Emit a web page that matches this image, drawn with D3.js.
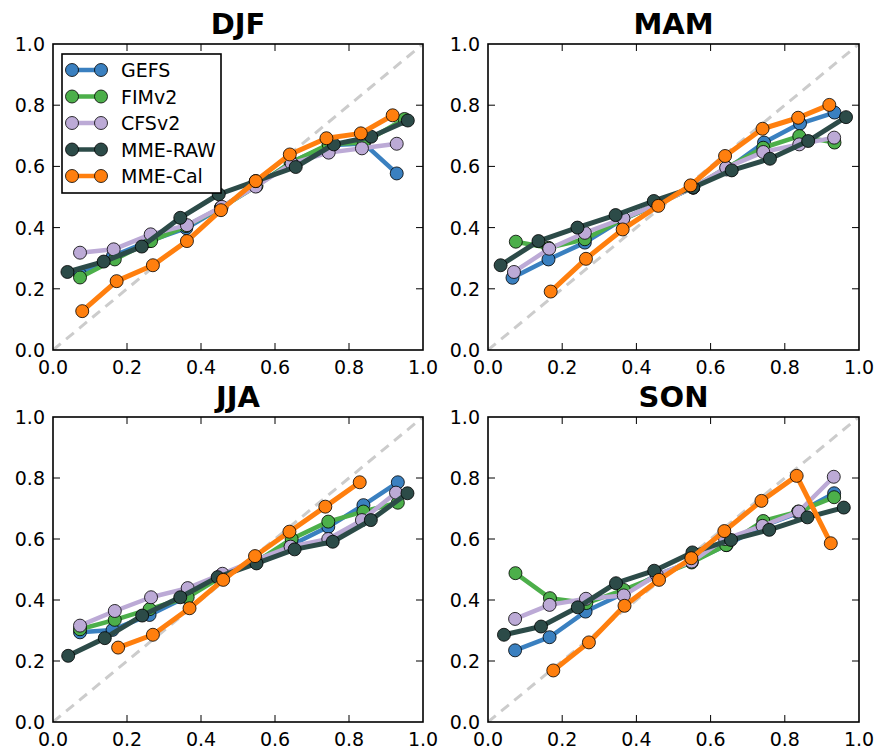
<!DOCTYPE html>
<html>
<head>
<meta charset="utf-8">
<script src="https://cdn.jsdelivr.net/npm/d3@7"></script>
<style>
  body { margin: 0; background: #fff; }
  svg { display: block; font-family: "DejaVu Sans", sans-serif; }
</style>
</head>
<body>
<script>
// reliability diagrams, one per season
const seasons = ["DJF", "MAM", "JJA", "SON"];
const models = ["GEFS", "FIMv2", "CFSv2", "MME-RAW", "MME-Cal"];
const colors = ["#3a80c0", "#4caf4a", "#bcaad6", "#2c4b48", "#ff7f0e"];
const ticks = [0, 0.2, 0.4, 0.6, 0.8, 1.0];

// [forecast probability, observed frequency]
const djfGEFS = [[0.073,0.247],[0.162,0.307],[0.26,0.356],[0.36,0.398],[0.454,0.465],[0.548,0.536],[0.645,0.614],[0.745,0.669],[0.84,0.675],[0.929,0.577]];
const djfFIM  = [[0.073,0.237],[0.167,0.296],[0.265,0.356],[0.36,0.405],[0.454,0.465],[0.55,0.536],[0.642,0.612],[0.745,0.672],[0.84,0.678],[0.95,0.755]];
const djfCFS  = [[0.073,0.318],[0.164,0.329],[0.264,0.378],[0.362,0.408],[0.456,0.468],[0.548,0.534],[0.645,0.61],[0.745,0.645],[0.835,0.659],[0.929,0.674]];
const djfRAW  = [[0.039,0.255],[0.137,0.289],[0.24,0.338],[0.344,0.432],[0.448,0.509],[0.548,0.552],[0.656,0.598],[0.759,0.672],[0.86,0.697],[0.959,0.75]];
const djfCAL  = [[0.079,0.127],[0.172,0.225],[0.27,0.277],[0.362,0.356],[0.454,0.457],[0.548,0.552],[0.64,0.639],[0.739,0.692],[0.832,0.708],[0.918,0.767]];

const mamGEFS = [[0.066,0.236],[0.163,0.296],[0.261,0.351],[0.363,0.427],[0.455,0.476],[0.553,0.531],[0.643,0.59],[0.744,0.678],[0.841,0.74],[0.934,0.776]];
const mamFIM  = [[0.075,0.354],[0.163,0.334],[0.261,0.362],[0.363,0.427],[0.455,0.476],[0.553,0.531],[0.643,0.596],[0.742,0.661],[0.839,0.699],[0.934,0.678]];
const mamCFS  = [[0.07,0.255],[0.165,0.331],[0.261,0.383],[0.365,0.43],[0.455,0.476],[0.553,0.531],[0.642,0.596],[0.742,0.647],[0.839,0.672],[0.933,0.694]];
const mamRAW  = [[0.034,0.277],[0.136,0.356],[0.241,0.4],[0.344,0.441],[0.447,0.487],[0.553,0.531],[0.657,0.587],[0.76,0.625],[0.863,0.683],[0.965,0.761]];
const mamCAL  = [[0.169,0.191],[0.264,0.298],[0.363,0.394],[0.459,0.471],[0.546,0.538],[0.639,0.634],[0.74,0.723],[0.836,0.759],[0.92,0.801]];

const jjaGEFS = [[0.073,0.294],[0.161,0.302],[0.261,0.351],[0.36,0.41],[0.454,0.48],[0.548,0.53],[0.645,0.58],[0.744,0.64],[0.839,0.711],[0.932,0.786]];
const jjaFIM  = [[0.073,0.304],[0.167,0.335],[0.261,0.37],[0.364,0.409],[0.456,0.477],[0.55,0.526],[0.645,0.6],[0.744,0.657],[0.839,0.69],[0.932,0.719]];
const jjaCFS  = [[0.073,0.316],[0.167,0.364],[0.265,0.409],[0.364,0.439],[0.458,0.486],[0.548,0.531],[0.642,0.575],[0.744,0.6],[0.835,0.662],[0.927,0.752]];
const jjaRAW  = [[0.041,0.217],[0.14,0.275],[0.241,0.349],[0.344,0.409],[0.445,0.475],[0.55,0.52],[0.653,0.566],[0.756,0.591],[0.859,0.662],[0.958,0.75]];
const jjaCAL  = [[0.176,0.244],[0.27,0.286],[0.369,0.373],[0.46,0.466],[0.546,0.544],[0.639,0.624],[0.736,0.706],[0.829,0.786]];

const sonGEFS = [[0.073,0.235],[0.166,0.278],[0.263,0.362],[0.366,0.422],[0.455,0.482],[0.549,0.526],[0.643,0.58],[0.742,0.643],[0.836,0.686],[0.933,0.75]];
const sonFIM  = [[0.074,0.488],[0.167,0.406],[0.265,0.39],[0.366,0.433],[0.455,0.477],[0.549,0.523],[0.642,0.58],[0.742,0.659],[0.836,0.69],[0.933,0.737]];
const sonCFS  = [[0.073,0.338],[0.166,0.384],[0.264,0.404],[0.366,0.415],[0.455,0.482],[0.549,0.526],[0.639,0.6],[0.74,0.643],[0.838,0.69],[0.932,0.804]];
const sonRAW  = [[0.043,0.286],[0.143,0.313],[0.242,0.376],[0.345,0.455],[0.448,0.496],[0.551,0.556],[0.655,0.597],[0.758,0.63],[0.861,0.671],[0.959,0.703]];
const sonCAL  = [[0.176,0.169],[0.272,0.261],[0.368,0.381],[0.461,0.466],[0.548,0.537],[0.637,0.626],[0.737,0.725],[0.832,0.807],[0.924,0.586]];

const seasonData = [
  [djfGEFS, djfFIM, djfCFS, djfRAW, djfCAL],
  [mamGEFS, mamFIM, mamCFS, mamRAW, mamCAL],
  [jjaGEFS, jjaFIM, jjaCFS, jjaRAW, jjaCAL],
  [sonGEFS, sonFIM, sonCFS, sonRAW, sonCAL]
];

const W = 877, H = 749;
// panel boxes: left, right, top, bottom
const boxes = [
  [53, 423, 44, 350],
  [488, 859, 44, 350],
  [53, 423, 417, 722],
  [488, 859, 417, 722]
];

const svg = d3.select("body").append("svg").attr("width", W).attr("height", H);

seasons.forEach(function(name, si){
  const b = boxes[si];
  const x = d3.scaleLinear().domain([0, 1]).range([b[0], b[1]]);
  const y = d3.scaleLinear().domain([0, 1]).range([b[3], b[2]]);
  const g = svg.append("g");
  const clipId = "clip" + si;
  g.append("clipPath").attr("id", clipId).append("rect")
    .attr("x", b[0]).attr("y", b[2]).attr("width", b[1]-b[0]).attr("height", b[3]-b[2]);

  // perfect reliability
  g.append("line")
    .attr("clip-path", "url(#" + clipId + ")")
    .attr("x1", x(0)).attr("y1", y(0)).attr("x2", x(1)).attr("y2", y(1))
    .attr("stroke", "#cccccc").attr("stroke-width", 3).attr("stroke-dasharray", "10,7");

  const line = d3.line().x(d => x(d[0])).y(d => y(d[1]));
  seasonData[si].forEach(function(pts, mi){
    g.append("path").datum(pts)
      .attr("d", line).attr("fill", "none")
      .attr("stroke", colors[mi]).attr("stroke-width", mi >= 3 ? 5 : 4.5)
      .attr("stroke-linejoin", "round");
    g.selectAll(null).data(pts).enter().append("circle")
      .attr("cx", d => x(d[0])).attr("cy", d => y(d[1])).attr("r", 6.5)
      .attr("fill", colors[mi]).attr("stroke", "#000").attr("stroke-width", 0.8);
  });

  // frame and inward ticks
  g.append("rect").attr("x", b[0]).attr("y", b[2])
    .attr("width", b[1]-b[0]).attr("height", b[3]-b[2])
    .attr("fill", "none").attr("stroke", "#000").attr("stroke-width", 1.6);
  const tl = 7;
  ticks.slice(1, -1).forEach(function(t){
    g.append("line").attr("x1", x(t)).attr("x2", x(t)).attr("y1", b[3]).attr("y2", b[3]-tl).attr("stroke", "#000");
    g.append("line").attr("x1", x(t)).attr("x2", x(t)).attr("y1", b[2]).attr("y2", b[2]+tl).attr("stroke", "#000");
    g.append("line").attr("y1", y(t)).attr("y2", y(t)).attr("x1", b[0]).attr("x2", b[0]+tl).attr("stroke", "#000");
    g.append("line").attr("y1", y(t)).attr("y2", y(t)).attr("x1", b[1]).attr("x2", b[1]-tl).attr("stroke", "#000");
  });
  ticks.forEach(function(t){
    g.append("text").attr("x", x(t)).attr("y", b[3] + 24)
      .attr("text-anchor", "middle").attr("font-size", 19).text(d3.format(".1f")(t));
    g.append("text").attr("x", b[0] - 8).attr("y", y(t) + 7)
      .attr("text-anchor", "end").attr("font-size", 19).text(d3.format(".1f")(t));
  });

  g.append("text").attr("x", (b[0]+b[1])/2).attr("y", b[2] - 10)
    .attr("text-anchor", "middle").attr("font-size", 29).attr("font-weight", "bold").text(name);
});

// legend in first panel
const lg = svg.append("g");
lg.append("rect").attr("x", 62).attr("y", 54).attr("width", 159).attr("height", 139)
  .attr("fill", "#fff").attr("stroke", "#000").attr("stroke-width", 1.6);
models.forEach(function(m, i){
  const yy = 70 + i * 26.5;
  lg.append("line").attr("x1", 72).attr("x2", 101).attr("y1", yy).attr("y2", yy)
    .attr("stroke", colors[i]).attr("stroke-width", 4.5);
  [72, 101].forEach(function(cx){
    lg.append("circle").attr("cx", cx).attr("cy", yy).attr("r", 6.5)
      .attr("fill", colors[i]).attr("stroke", "#000").attr("stroke-width", 0.8);
  });
  lg.append("text").attr("x", 121).attr("y", yy + 7).attr("font-size", 19).text(m);
});
</script>
</body>
</html>
